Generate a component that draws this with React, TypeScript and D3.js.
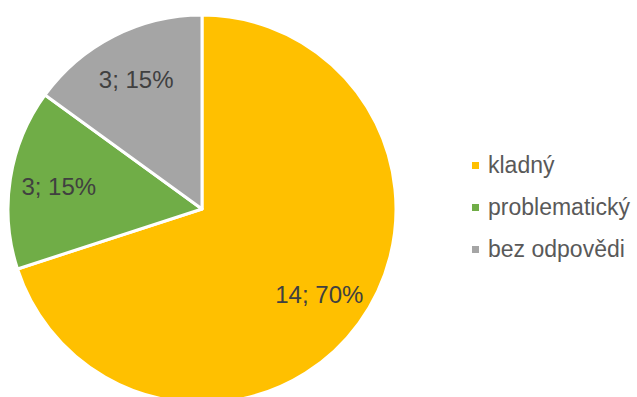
import React from "react";
import * as d3 from "d3";

const categories = ["kladný", "problematický", "bez odpovědi"];
const values = [14, 3, 3];
const percents = ["70%", "15%", "15%"];
const colors = ["#FFC000", "#70AD47", "#A5A5A5"];

const W = 637;
const H = 397;
const cx = 202;
const cy = 209;
const R = 194;
const labelR = 145;

export default function App() {
  const pie = d3.pie<number>().sort(null).value((d) => d)(values);
  const arc = d3.arc<d3.PieArcDatum<number>>().innerRadius(0).outerRadius(R);
  const labelArc = d3.arc<d3.PieArcDatum<number>>().innerRadius(labelR).outerRadius(labelR);
  const legendY = d3.scalePoint<string>().domain(categories).range([173, 257]);

  return (
    <svg
      width={W}
      height={H}
      style={{ position: "absolute", left: 0, top: 0, background: "#fff" }}
      fontFamily="'Liberation Sans', Arial, sans-serif"
    >
      <g transform={`translate(${cx},${cy})`}>
        {pie.map((p, i) => (
          <path key={i} d={arc(p) || ""} fill={colors[i]} stroke="#fff" strokeWidth={3} strokeLinejoin="round" />
        ))}
        {pie.map((p, i) => {
          const [lx, ly] = labelArc.centroid(p);
          return (
            <text
              key={"l" + i}
              x={lx}
              y={ly}
              textAnchor="middle"
              dominantBaseline="central"
              fontSize={24}
              fill="#404040"
            >
              {`${values[i]}; ${percents[i]}`}
            </text>
          );
        })}
      </g>
      <g>
        {categories.map((c, i) => (
          <g key={c}>
            <rect x={472} y={(legendY(c) || 0) - 11} width={7} height={7} fill={colors[i]} />
            <text x={488} y={legendY(c)} fontSize={23} fill="#595959">
              {c}
            </text>
          </g>
        ))}
      </g>
    </svg>
  );
}
